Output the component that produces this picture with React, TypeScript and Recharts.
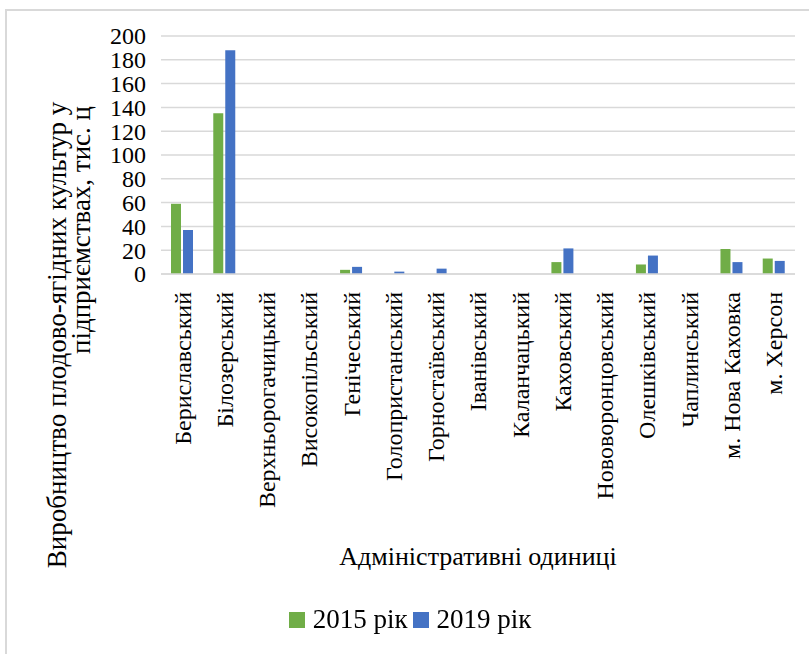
import {
  BarChart,
  Bar,
  XAxis,
  YAxis,
  CartesianGrid,
  Legend,
  Label,
} from "recharts";

const districts = [
  "Бериславський",
  "Білозерський",
  "Верхньорогачицький",
  "Високопільський",
  "Генічеський",
  "Голопристанський",
  "Горностаївський",
  "Іванівський",
  "Каланчацький",
  "Каховський",
  "Нововоронцовський",
  "Олешківський",
  "Чаплинський",
  "м. Нова Каховка",
  "м. Херсон",
];

const values2015 = [59, 135, 0, 0, 3.5, 0, 0, 0, 0, 10, 0, 8, 0, 21, 13];
const values2019 = [37, 188, 0, 0, 6, 2, 4.5, 0, 0, 21.5, 0, 15.5, 0, 10, 11];

const yTicks = [0, 20, 40, 60, 80, 100, 120, 140, 160, 180, 200];

const series = [
  { key: "y2015", name: "2015 рік", color: "#70ad47" },
  { key: "y2019", name: "2019 рік", color: "#4472c4" },
];

const data = districts.map((name, i) => ({
  name,
  y2015: values2015[i],
  y2019: values2019[i],
}));

const FONT = "Liberation Serif";
const txt = (size: number) => ({ fontFamily: FONT, fontSize: size, fill: "#000" });

function CategoryTick({ x, y, payload }: any) {
  return (
    <text
      x={x}
      y={y}
      transform={`rotate(-90, ${x}, ${y})`}
      textAnchor="end"
      dy="0.35em"
      style={txt(24)}
    >
      {payload.value}
    </text>
  );
}

function ValueTick({ x, y, payload }: any) {
  return (
    <text x={x} y={y} textAnchor="end" dy="0.35em" style={txt(24)}>
      {payload.value}
    </text>
  );
}

function YTitle() {
  const cx1 = 57;
  const cx2 = 81;
  return (
    <g>
      <text x={cx1} y={335} transform={`rotate(-90, ${cx1}, 335)`} textAnchor="middle" dy="0.35em" style={txt(27)}>
        Виробництво плодово-ягідних культур у
      </text>
      <text x={cx2} y={230} transform={`rotate(-90, ${cx2}, 230)`} textAnchor="middle" dy="0.35em" style={txt(27)}>
        підприємствах, тис. ц
      </text>
    </g>
  );
}

function XTitle({ viewBox }: any) {
  const cx = viewBox.x + viewBox.width / 2;
  return (
    <text x={cx} y={565} textAnchor="middle" style={txt(26)}>
      Адміністративні одиниці
    </text>
  );
}

function LegendContent() {
  return (
    <div style={{ display: "flex", justifyContent: "center", alignItems: "center", fontFamily: FONT, fontSize: 27 }}>
      {series.map((s) => (
        <span key={s.key} style={{ display: "flex", alignItems: "center", marginRight: 5 }}>
          <span style={{ width: 16, height: 16, background: s.color, display: "inline-block", marginRight: 8 }} />
          {s.name}
        </span>
      ))}
    </div>
  );
}

export default function App() {
  return (
    <div style={{ position: "fixed", top: 0, left: 0, width: 809, height: 654, background: "#fff", fontFamily: FONT }}>
      <div
        style={{
          position: "absolute",
          top: 9,
          left: 5,
          width: 820,
          height: 660,
          borderTop: "2px solid #d9d9d9",
          borderLeft: "2px solid #d9d9d9",
        }}
      />
      <div style={{ position: "absolute", top: 0, left: 0 }}>
        <BarChart
          width={809}
          height={654}
          data={data}
          margin={{ top: 36, right: 14, left: 101, bottom: 49 }}
          barSize={10}
          barGap={2}
        >
          <CartesianGrid vertical={false} stroke="#d9d9d9" strokeWidth={1.5} />
          <XAxis
            dataKey="name"
            interval={0}
            height={300}
            tick={<CategoryTick />}
            tickLine={false}
            tickSize={0}
            tickMargin={18}
            axisLine={{ stroke: "#d9d9d9", strokeWidth: 1.5 }}
          >
            <Label content={<XTitle />} />
          </XAxis>
          <YAxis
            width={60}
            domain={[0, 200]}
            ticks={yTicks}
            interval={0}
            tickLine={false}
            axisLine={false}
            tickSize={0}
            tickMargin={15}
            tick={<ValueTick />}
          >
            <Label content={<YTitle />} />
          </YAxis>
          <Legend
            verticalAlign="bottom"
            content={<LegendContent />}
            wrapperStyle={{ top: 604, left: 8, width: 809 }}
          />
          {series.map((s) => (
            <Bar key={s.key} dataKey={s.key} name={s.name} fill={s.color} isAnimationActive={false} />
          ))}
        </BarChart>
      </div>
    </div>
  );
}
